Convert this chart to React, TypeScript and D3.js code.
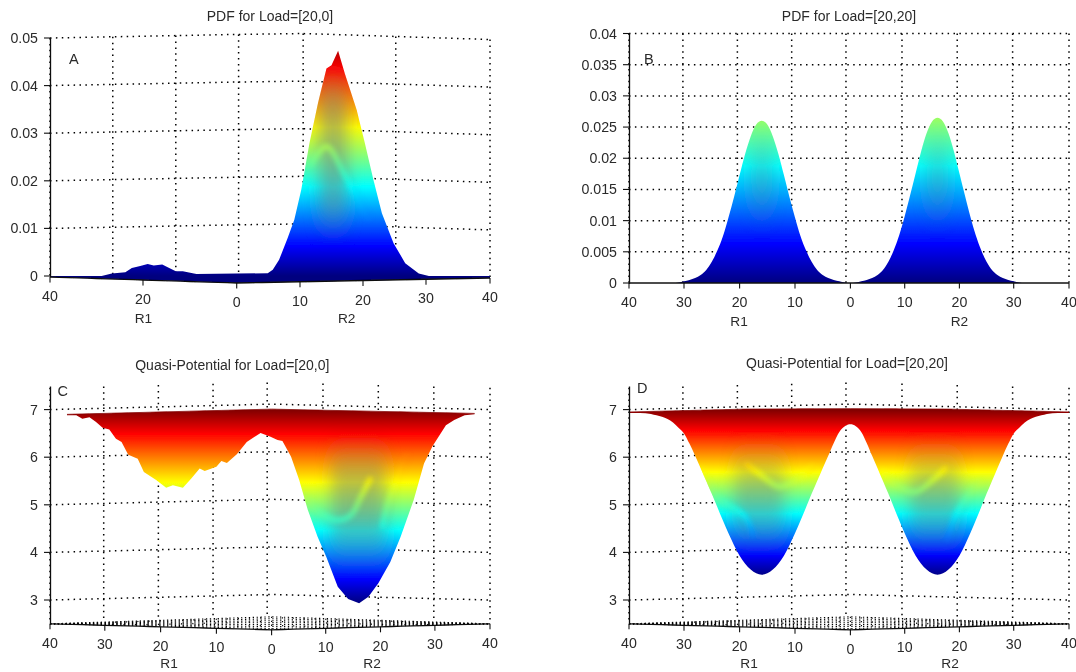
import React from "react";
import * as d3 from "d3";

// Panel A: PDF for Load=[20,0]
const aR = [-40, -28.9, -26.7, -23.8, -22.4, -20.6, -19, -17.7, -15.9, -14.4, -13, -11.5, -8.6, 0, 4.9, 5.7, 6.7, 8.05, 9.1, 10.2, 11.5, 12.85, 14.2, 15, 16.05, 17.1, 19, 20.3, 21.65, 23, 24.85, 26.7, 28.85, 30.45, 40];
const aPdf = [0, 0, 0.0005, 0.0008, 0.0017, 0.0021, 0.0025, 0.0022, 0.0024, 0.0017, 0.001, 0.001, 0.0004, 0.0005, 0.0006, 0.0013, 0.0034, 0.008, 0.0118, 0.0181, 0.0279, 0.0363, 0.0436, 0.0443, 0.0473, 0.0426, 0.0349, 0.0279, 0.0202, 0.0132, 0.0069, 0.0027, 0.0005, 0, 0];

// Panel B: PDF for Load=[20,20], read every 1 unit between r = -32 and 32
const bR = [-40, -32, -31, -30, -29, -28, -27, -26, -25, -24, -23, -22, -21, -20, -19, -18, -17, -16, -15, -14, -13, -12, -11, -10, -9, -8, -7, -6, -5, -4, -3, -2, -1, 0, 1, 2, 3, 4, 5, 6, 7, 8, 9, 10, 11, 12, 13, 14, 15, 16, 17, 18, 19, 20, 21, 22, 23, 24, 25, 26, 27, 28, 29, 30, 31, 32, 40];
const bPdf = [0, 0, 0.0001, 0.0003, 0.0005, 0.0008, 0.0013, 0.0021, 0.0034, 0.0052, 0.0075, 0.0105, 0.0138, 0.0173, 0.0207, 0.0235, 0.0254, 0.026, 0.0254, 0.0235, 0.0207, 0.0173, 0.0138, 0.0105, 0.0075, 0.0052, 0.0034, 0.0021, 0.0013, 0.0008, 0.0005, 0.0003, 0.0001, 0, 0.0001, 0.0003, 0.0005, 0.0008, 0.0013, 0.0021, 0.0034, 0.0053, 0.0077, 0.0107, 0.0141, 0.0176, 0.0211, 0.024, 0.0259, 0.0265, 0.0259, 0.024, 0.0211, 0.0176, 0.0141, 0.0107, 0.0077, 0.0053, 0.0034, 0.0021, 0.0013, 0.0008, 0.0005, 0.0003, 0.0001, 0, 0];

// Panel C: Quasi-Potential for Load=[20,0]
const cR = [-36.9, -35.2, -34.1, -32.8, -31.6, -30.4, -29.2, -28, -27, -25.8, -24.1, -23, -20.8, -19, -17.8, -16, -14.5, -13, -12.1, -10, -9.1, -8.1, -6.3, -4.5, -2, -0.2, 1.1, 2, 3.6, 5.1, 6.7, 8.5, 10.1, 12.2, 14.1, 16.1, 17.8, 19.6, 21.8, 23.7, 26.1, 28, 29.5, 32, 33.5, 35.4, 37.2];
const cPot = [6.88, 6.88, 6.81, 6.84, 6.74, 6.62, 6.58, 6.39, 6.32, 6.05, 5.97, 5.69, 5.52, 5.36, 5.41, 5.36, 5.55, 5.76, 5.71, 5.8, 5.92, 5.88, 6.06, 6.32, 6.51, 6.43, 6.36, 6.34, 6.01, 5.52, 4.89, 4.33, 3.91, 3.28, 3.02, 2.93, 3.07, 3.35, 3.8, 4.33, 5.1, 5.87, 6.22, 6.67, 6.78, 6.88, 6.9];
const cRimR = [-36.9, 0, 37.2];
const cRim = [6.9, 7.01, 6.92];

// Panel D: Quasi-Potential for Load=[20,20]
const dR = [-40, -38, -36, -35, -34, -33, -32, -31, -30, -29, -28, -27, -26, -25, -24, -23, -22, -21, -20, -19, -18, -17, -16, -15, -14, -13, -12, -11, -10, -9, -8, -7, -6, -5, -4, -3, -2, -1, 0, 1, 2, 3, 4, 5, 6, 7, 8, 9, 10, 11, 12, 13, 14, 15, 16, 17, 18, 19, 20, 21, 22, 23, 24, 25, 26, 27, 28, 29, 30, 31, 32, 33, 34, 35, 36, 38, 40];
const dPot = [6.93, 6.93, 6.91, 6.88, 6.85, 6.8, 6.73, 6.62, 6.5, 6.28, 6.03, 5.77, 5.5, 5.23, 4.95, 4.67, 4.4, 4.15, 3.93, 3.76, 3.64, 3.56, 3.53, 3.56, 3.64, 3.76, 3.93, 4.15, 4.4, 4.67, 4.95, 5.23, 5.5, 5.77, 6.03, 6.3, 6.53, 6.65, 6.69, 6.65, 6.53, 6.3, 6.03, 5.77, 5.5, 5.23, 4.95, 4.67, 4.4, 4.15, 3.93, 3.76, 3.64, 3.56, 3.53, 3.56, 3.64, 3.76, 3.93, 4.15, 4.4, 4.67, 4.95, 5.23, 5.5, 5.77, 6.03, 6.28, 6.5, 6.62, 6.73, 6.8, 6.85, 6.88, 6.91, 6.93, 6.93];
const dRimR = [-40, -19, 0, 18, 40];
const dRim = [6.95, 7.01, 7.02, 7.01, 6.95];

// tick labels and wall grid
const aTicksX = [-40, -20, 0, 10, 20, 30, 40];
const fullTicksX = [-40, -30, -20, -10, 0, 10, 20, 30, 40];
const aGridX = [-40, -26.5, -13, 0.3, 10.5, 25.2, 40];
const fullGridX = [-40, -30.2, -20.4, -10.6, -0.8, 9.5, 19.6, 29.8, 40];
const aTicksY = [0, 0.01, 0.02, 0.03, 0.04, 0.05];
const bTicksY = [0, 0.005, 0.01, 0.015, 0.02, 0.025, 0.03, 0.035, 0.04];
const potTicksY = [3, 4, 5, 6, 7];

// jet colormap
const jetStops = ["#00007f", "#0000ff", "#007fff", "#00ffff", "#7fff7f", "#ffff00", "#ff7f00", "#ff0000", "#7f0000"];

// dull strips down the wells: r span, low and high value
const aDull = [[{ r: 13, lo: 0.012, hi: 0.04 }, { r: 17.5, lo: 0.012, hi: 0.04 }]];
const bDull = [
  [{ r: -18, lo: 0.012, hi: 0.022 }, { r: -14, lo: 0.012, hi: 0.022 }],
  [{ r: 14, lo: 0.012, hi: 0.022 }, { r: 18, lo: 0.012, hi: 0.022 }],
];
const cDull = [[{ r: 11, lo: 4.1, hi: 6 }, { r: 21, lo: 4.1, hi: 6 }]];
const dDull = [
  [{ r: -21, lo: 4.4, hi: 5.9 }, { r: -12, lo: 4.4, hi: 5.9 }],
  [{ r: 11, lo: 4.4, hi: 5.9 }, { r: 20, lo: 4.4, hi: 5.9 }],
];

// brighter ridges showing through the dull strips
const aRidges = [[[11.5, 0.023], [14.2, 0.0272], [17, 0.0215], [19.3, 0.016], [21, 0.012]]];
const bRidges: number[][][] = [];
const cRidges = [
  [[6.2, 5.2], [7.7, 4.96], [9.6, 4.78], [12.1, 4.68], [14.6, 4.78], [16.4, 5.16], [18.3, 5.58]],
  [[20.3, 4.51], [21.5, 5.07], [23.4, 5.62], [24.9, 6.06]],
];
const dRidges = [
  [[-19, 5.87], [-16.5, 5.66], [-12.8, 5.38], [-9.7, 5.52], [-6.7, 5.83]],
  [[-27, 5.8], [-24, 5.17], [-19, 4.75], [-17.5, 4.33]],
  [[5.8, 5.73], [8.9, 5.38], [12, 5.27], [15.8, 5.59], [17.7, 5.8]],
  [[24, 5.52], [21.4, 5.17], [19.2, 4.75], [17.7, 4.26]],
];

type Panel = {
  id: string; title: string; titleX: number; titleY: number; letterX: number; letterY: number;
  ticksX: number[]; rangeX: number[]; gridX: number[];
  ticksY: number[]; domainY: number[]; rangeY: number[]; axisTop: number;
  r: number[]; v: number[]; rimR?: number[]; rim?: number[];
  colorDomain: number[]; smooth: boolean; dull: any[]; ridges: number[][][]; dullOpacity: number;
  wallBend: number[]; bendAt: number; frontBend: number[]; frontAt: number; r1X: number; r2X: number; labelY: number; floor: boolean;
};

const panels: Panel[] = [
  {
    id: "a", title: "PDF for Load=[20,0]", titleX: 270, titleY: 16, letterX: 69, letterY: 59,
    ticksX: aTicksX, rangeX: [50, 143, 236.7, 300, 363, 426, 490], gridX: aGridX,
    ticksY: aTicksY, domainY: [0, 0.05], rangeY: [276, 38], axisTop: 38,
    r: aR, v: aPdf, colorDomain: [0, 0.05], smooth: false, dull: aDull, ridges: aRidges, dullOpacity: 0.55,
    wallBend: [0, -4.5, 1.5], bendAt: 10.5, frontBend: [1, 7, 2], frontAt: 0, r1X: 143.4, r2X: 346.7, labelY: 318, floor: false,
  },
  {
    id: "b", title: "PDF for Load=[20,20]", titleX: 849, titleY: 16, letterX: 644, letterY: 59,
    ticksX: fullTicksX, rangeX: [629, 684, 739.6, 795, 850.4, 904.7, 959.4, 1013.7, 1069], gridX: fullGridX,
    ticksY: bTicksY, domainY: [0, 0.04], rangeY: [283, 33.5], axisTop: 33.5,
    r: bR, v: bPdf, colorDomain: [0, 0.05], smooth: true, dull: bDull, ridges: bRidges, dullOpacity: 0.3,
    wallBend: [0, 0, 0], bendAt: 0, frontBend: [0, 0, 0], frontAt: 0, r1X: 739, r2X: 959.4, labelY: 321, floor: false,
  },
  {
    id: "c", title: "Quasi-Potential for Load=[20,0]", titleX: 232.3, titleY: 365, letterX: 57.5, letterY: 391,
    ticksX: fullTicksX, rangeX: [50, 104.8, 160.6, 216.4, 271.6, 325.7, 380.5, 434.9, 490], gridX: fullGridX,
    ticksY: potTicksY, domainY: [2.5, 7.5], rangeY: [623.8, 385.8], axisTop: 386.5,
    r: cR, v: cPot, rimR: cRimR, rim: cRim, colorDomain: [2.93, 7], smooth: false, dull: cDull, ridges: cRidges, dullOpacity: 0.5,
    wallBend: [0, -5.5, 0], bendAt: 0, frontBend: [0, 6, 0], frontAt: 0, r1X: 169, r2X: 372, labelY: 663, floor: true,
  },
  {
    id: "d", title: "Quasi-Potential for Load=[20,20]", titleX: 847, titleY: 363, letterX: 637, letterY: 388,
    ticksX: fullTicksX, rangeX: [629, 684, 739.6, 795, 850.4, 904.7, 959.4, 1013.7, 1069], gridX: fullGridX,
    ticksY: potTicksY, domainY: [2.5, 7.5], rangeY: [623.8, 385.8], axisTop: 386.5,
    r: dR, v: dPot, rimR: dRimR, rim: dRim, colorDomain: [3.5, 7], smooth: true, dull: dDull, ridges: dRidges, dullOpacity: 0.45,
    wallBend: [0, -5.5, 0], bendAt: 0, frontBend: [0, 6, 0], frontAt: 0, r1X: 749, r2X: 950, labelY: 663, floor: true,
  },
];

const textFill = "#2a2a2a";
const font = "'Liberation Sans', Arial, sans-serif";

function SurfacePanel({ p }: { p: Panel }) {
  const x = d3.scaleLinear().domain(p.ticksX).range(p.rangeX);
  const y = d3.scaleLinear().domain(p.domainY).range(p.rangeY);
  const wall = d3.scaleLinear().domain([-40, p.bendAt, 40]).range(p.wallBend);
  const floorBack = d3.scaleLinear().domain([-40, 0, 40]).range([0, -7, 0]);
  const front = d3.scaleLinear().domain([-40, p.frontAt, 40]).range(p.frontBend);
  const rs = d3.range(-40, 40.5, 2);
  const floorY = y(p.domainY[0]);

  const hLine = (value: number) =>
    d3.line<number>().x((r) => x(r)).y((r) => y(value) + wall(r))(rs) as string;

  const idx = p.r.map((_, i) => i);
  const rimScale = p.rim ? d3.scaleLinear().domain(p.rimR as number[]).range(p.rim) : null;
  const surface = d3
    .area<number>()
    .x((i) => x(p.r[i]))
    .y0((i) => (rimScale ? y(rimScale(p.r[i])) : floorY + front(p.r[i])))
    .y1((i) => y(p.v[i]))
    .curve(p.smooth ? d3.curveMonotoneX : d3.curveLinear)(idx) as string;
  const rimLine = rimScale
    ? (d3.line<number>().x((r) => x(r)).y((r) => y(rimScale(r)))(p.rimR as number[]) as string)
    : null;

  const dullArea = d3
    .area<any>()
    .x((d) => x(d.r))
    .y0((d) => y(d.lo))
    .y1((d) => y(d.hi));
  const ridgeLine = d3
    .line<number[]>()
    .x((d) => x(d[0]))
    .y((d) => y(d[1]))
    .curve(d3.curveCatmullRom);
  const frontLine = d3.line<number>().x((r) => x(r)).y((r) => floorY + front(r));
  const floorBands = [0.15, 0.3, 0.45, 0.6, 0.75, 0.9];
  const floorCross = d3.range(-28, 29, 2);

  return (
    <g>
      <defs>
        <linearGradient id={`jet-${p.id}`} gradientUnits="userSpaceOnUse" x1="0" x2="0" y1={y(p.colorDomain[0])} y2={y(p.colorDomain[1])}>
          {jetStops.map((c, i) => (
            <stop key={c} offset={i / (jetStops.length - 1)} stopColor={c} />
          ))}
        </linearGradient>
        <clipPath id={`clip-${p.id}`}>
          <path d={surface} />
        </clipPath>
      </defs>

      {/* back wall grid */}
      <g stroke="#000" strokeWidth={1.5} strokeDasharray="1.5 4.4" fill="none">
        {p.ticksY.filter((v) => v !== 0).map((v) => (
          <path key={v} d={hLine(v)} />
        ))}
        {p.gridX.map((r) => (
          <line key={r} x1={x(r)} x2={x(r)} y1={y(p.domainY[1]) + wall(r) + (p.floor ? 2 : 0)} y2={floorY + (p.floor ? floorBack(r) : wall(r))} />
        ))}
      </g>

      {/* floor hatch */}
      {p.floor && (
        <g stroke="#000" strokeWidth={1.1} strokeDasharray="1.3 2.6" fill="none">
          <path d={d3.line<number>().x((r) => x(r)).y((r) => floorY + floorBack(r))(rs) as string} />
          {floorBands.map((t) => (
            <path key={t} d={d3.line<number>().x((r) => x(r)).y((r) => floorY + floorBack(r) + (front(r) - floorBack(r)) * t)(rs) as string} />
          ))}
          {floorCross.map((r) => (
            <line key={r} x1={x(r)} x2={x(r * 1.03)} y1={floorY + floorBack(r)} y2={floorY + front(r)} />
          ))}
        </g>
      )}

      {/* surface */}
      <path d={surface} fill={`url(#jet-${p.id})`} />
      {rimLine && <path d={rimLine} fill="none" stroke="#8a0c0c" strokeWidth={0.8} />}
      <g clipPath={`url(#clip-${p.id})`}>
        {p.dull.map((band, i) => (
          <path key={i} d={dullArea(band) as string} fill="#77807f" opacity={p.dullOpacity} filter="url(#soft)" />
        ))}
        {p.ridges.map((ridge, i) => (
          <path key={i} d={ridgeLine(ridge) as string} fill="none" stroke={`url(#jet-${p.id})`} strokeWidth={5} opacity={0.85} filter="url(#softer)" />
        ))}
      </g>

      {/* axes */}
      <line x1={p.rangeX[0] + 0.5} x2={p.rangeX[0] + 0.5} y1={p.axisTop} y2={floorY + 1} stroke="#111" strokeWidth={1.3} />
      {p.ticksY.map((v) => (
        <g key={v}>
          <line x1={p.rangeX[0] - 6} x2={p.rangeX[0]} y1={y(v)} y2={y(v)} stroke="#111" strokeWidth={1.1} />
          <text x={p.rangeX[0] - 12} y={y(v) + 5} textAnchor="end" fontSize={14.2} fill={textFill}>{String(v)}</text>
        </g>
      ))}
      <path d={frontLine(rs) as string} fill="none" stroke="#111" strokeWidth={1.3} />
      {p.ticksX.map((r, i) => (
        <g key={i}>
          <line x1={x(r)} x2={x(r)} y1={floorY + front(r)} y2={floorY + front(r) + 5.5} stroke="#111" strokeWidth={1.1} />
          <text x={x(r)} y={floorY + front(r) + 24} textAnchor="middle" fontSize={14.2} fill={textFill}>{String(Math.abs(r))}</text>
        </g>
      ))}
      <text x={p.r1X} y={p.labelY + 5} textAnchor="middle" fontSize={13.7} fill={textFill}>R1</text>
      <text x={p.r2X} y={p.labelY + 5} textAnchor="middle" fontSize={13.7} fill={textFill}>R2</text>
      <text x={p.letterX} y={p.letterY + 5} fontSize={14.5} fill={textFill}>{p.id.toUpperCase()}</text>
      <text x={p.titleX} y={p.titleY + 5} textAnchor="middle" fontSize={14} fill={textFill}>{p.title}</text>
    </g>
  );
}

export default function App() {
  return (
    <svg width={1076} height={672} style={{ position: "absolute", left: 0, top: 0, background: "#fff" }} fontFamily={font}>
      <defs>
        <filter id="soft" filterUnits="userSpaceOnUse" x="0" y="0" width="1076" height="672">
          <feGaussianBlur stdDeviation="8 16" />
        </filter>
        <filter id="softer" filterUnits="userSpaceOnUse" x="0" y="0" width="1076" height="672">
          <feGaussianBlur stdDeviation="2.6" />
        </filter>
        <filter id="print" filterUnits="userSpaceOnUse" x="0" y="0" width="1076" height="672">
          <feGaussianBlur stdDeviation="0.35" />
        </filter>
      </defs>
      <g filter="url(#print)">
        {panels.map((p) => (
          <SurfacePanel key={p.id} p={p} />
        ))}
      </g>
    </svg>
  );
}
